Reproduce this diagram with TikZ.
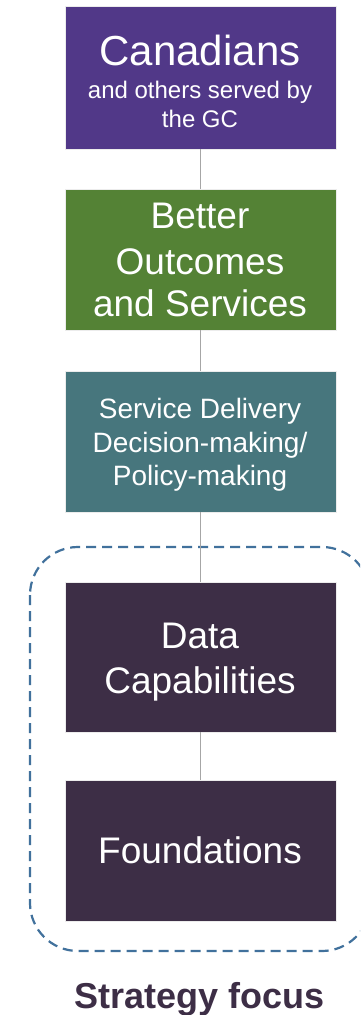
\documentclass[tikz,border=0pt]{standalone}
\usepackage{fontspec}
\setmainfont{Liberation Sans}
\definecolor{cPurple}{RGB}{81,56,136}
\definecolor{cGreen}{RGB}{84,130,53}
\definecolor{cTeal}{RGB}{71,118,125}
\definecolor{cDark}{RGB}{61,46,70}
\definecolor{cDash}{RGB}{65,113,156}
\definecolor{cLine}{RGB}{166,166,166}
\begin{document}
\begin{tikzpicture}[x=1pt,y=-1pt,
  boxnode/.style={rectangle,draw=white!85!gray,line width=0.6pt,minimum width=271pt,inner sep=0pt,outer sep=0pt},
  txt/.style={anchor=base,text=white,inner sep=0pt},
  big/.style={font=\fontsize{37}{44}\selectfont},
  conn/.style={draw=cLine,line width=1pt}]
\useasboundingbox (0,0) rectangle (360,1015);
\clip (0,0) rectangle (360,1015);
\fill[white] (0,0) rectangle (360,1015);
% dashed focus frame
\draw[cDash,line width=2.2pt,dash pattern=on 10pt off 6pt,rounded corners=48pt] (30,547) rectangle (370,951);
% boxes
\node[boxnode,fill=cPurple,minimum height=143pt] (b1) at (200.5,77.5) {};
\node[boxnode,fill=cGreen,minimum height=141pt] (b2) at (200.5,259.5) {};
\node[boxnode,fill=cTeal,minimum height=141pt] (b3) at (200.5,441.5) {};
\node[boxnode,fill=cDark,minimum height=150pt] (b4) at (200.5,657) {};
\node[boxnode,fill=cDark,minimum height=141pt] (b5) at (200.5,850.5) {};
% connectors
\draw[conn] (b1.south) -- (b2.north);
\draw[conn] (b2.south) -- (b3.north);
\draw[conn] (b3.south) -- (b4.north);
\draw[conn] (b4.south) -- (b5.north);
% texts
\node[txt,font=\fontsize{42}{50}\selectfont] (t1a) at (200,65) {Canadians};
\node[txt,font=\fontsize{24}{29}\selectfont] (t1b) at (200,98) {and others served by};
\node[txt,font=\fontsize{24}{29}\selectfont] (t1c) at (200,127) {the GC};
\node[txt,big] (t2a) at (200,228) {Better};
\node[txt,big] (t2b) at (200,274.5) {Outcomes};
\node[txt,big] (t2c) at (200,316.5) {and Services};
\node[txt,font=\fontsize{28}{34}\selectfont] (t3a) at (200,418.5) {Service Delivery};
\node[txt,font=\fontsize{28}{34}\selectfont] (t3b) at (200,452) {Decision-making/};
\node[txt,font=\fontsize{28}{34}\selectfont] (t3c) at (200,485) {Policy-making};
\node[txt,big] (t4a) at (200,648) {Data};
\node[txt,big] (t4b) at (200,693) {Capabilities};
\node[txt,big] (t5) at (200,863) {Foundations};
\node[anchor=base,inner sep=0pt,text=cDark,font=\fontsize{36}{43}\selectfont\bfseries] (sf) at (200,1008) {Strategy focus};
\end{tikzpicture}
\end{document}
